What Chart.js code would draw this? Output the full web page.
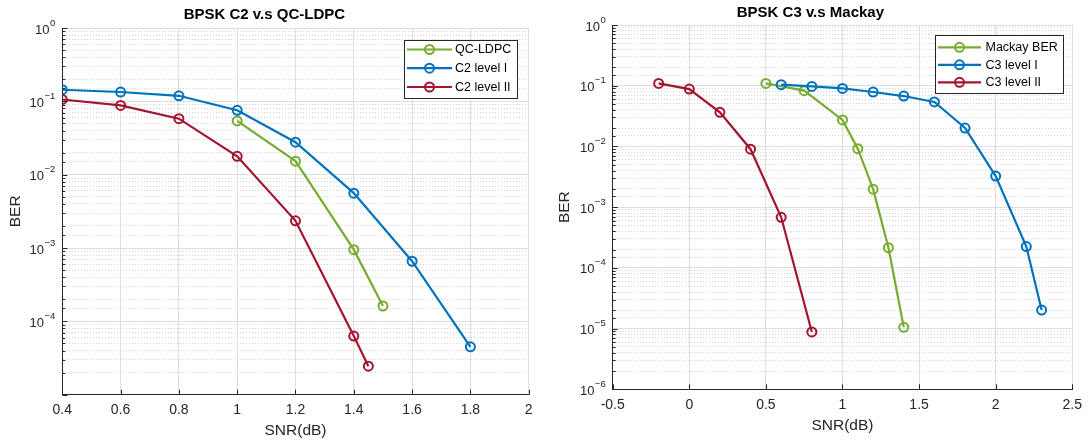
<!DOCTYPE html>
<html><head><meta charset="utf-8">
<script src="https://cdn.jsdelivr.net/npm/chart.js@4/dist/chart.umd.min.js"></script>
<style>
html,body{margin:0;padding:0;background:#fff;overflow:hidden}
#wrap{position:relative;width:1089px;height:441px;background:#fff}
.c{position:absolute;top:0}
</style></head><body>
<div id="wrap">
<canvas id="c1" class="c" style="left:0" width="545" height="441"></canvas>
<canvas id="c2" class="c" style="left:545px" width="544" height="441"></canvas>
</div>
<script>
// ---------- data (left: BPSK C2 v.s QC-LDPC) ----------
const qcSnr   = [1.0, 1.2, 1.4, 1.5];
const qcBer   = [0.054, 0.0153, 9.5e-4, 1.62e-4];
const c2L1Snr = [0.4, 0.6, 0.8, 1.0, 1.2, 1.4, 1.6, 1.8];
const c2L1Ber = [0.144, 0.134, 0.119, 0.0755, 0.0277, 0.0056, 6.6e-4, 4.5e-5];
const c2L2Snr = [0.4, 0.6, 0.8, 1.0, 1.2, 1.4, 1.45];
const c2L2Ber = [0.106, 0.088, 0.058, 0.0178, 0.00235, 6.3e-5, 2.45e-5];
// ---------- data (right: BPSK C3 v.s Mackay) ----------
const mackaySnr = [0.5, 0.75, 1.0, 1.1, 1.2, 1.3, 1.4];
const mackayBer = [0.109, 0.083, 0.0273, 0.0092, 0.00198, 2.15e-4, 1.05e-5];
const c3L1Snr = [0.6, 0.8, 1.0, 1.2, 1.4, 1.6, 1.8, 2.0, 2.2, 2.3];
const c3L1Ber = [0.104, 0.0975, 0.0904, 0.0787, 0.0676, 0.054, 0.0201, 0.00325, 2.24e-4, 2.02e-5];
const c3L2Snr = [-0.2, 0, 0.2, 0.4, 0.6, 0.8];
const c3L2Ber = [0.109, 0.088, 0.0365, 0.009, 6.8e-4, 8.8e-6];
// ---------- labels ----------
const leftTitle = 'BPSK C2 v.s QC-LDPC';
const rightTitle = 'BPSK C3 v.s Mackay';
const leftLabels = ['QC-LDPC', 'C2 level I', 'C2 level II'];
const rightLabels = ['Mackay BER', 'C3 level I', 'C3 level II'];
const leftYTickExps = [0, -1, -2, -3, -4];
const rightYTickExps = [0, -1, -2, -3, -4, -5, -6];
const xTitle = 'SNR(dB)';
const yTitle = 'BER';

const GREEN = '#77AC30', BLUE = '#0072BD', RED = '#A2142F';
const AX = '#262626';
const FAM = '"Liberation Sans", Arial, Helvetica, sans-serif';
Chart.defaults.font.family = FAM;
Chart.defaults.color = AX;

function isMajor(v){ const l = Math.log10(v); return Math.abs(l - Math.round(l)) < 1e-9; }
function pts(xs, ys){ return xs.map((x, i) => ({x: x, y: ys[i]})); }
function ds(label, xs, ys, color, order){
  return { label, data: pts(xs, ys), borderColor: color, backgroundColor: color,
    borderWidth: 2.2, pointRadius: 4.5, pointHoverRadius: 4.5, pointBorderWidth: 2,
    pointBackgroundColor: 'rgba(255,255,255,0)', pointBorderColor: color,
    showLine: true, tension: 0, fill: false, order };
}

const matLegend = {
  id: 'matLegend',
  afterDraw(chart, args, o){
    const ctx = chart.ctx;
    ctx.save();
    ctx.fillStyle = '#fff';
    ctx.fillRect(o.x, o.y, o.w, o.h);
    ctx.strokeStyle = AX; ctx.lineWidth = 1;
    ctx.strokeRect(o.x + 0.5, o.y + 0.5, o.w, o.h);
    ctx.font = '12.5px ' + FAM;
    ctx.textBaseline = 'middle'; ctx.textAlign = 'left';
    chart.data.datasets.forEach((d, i) => {
      const yy = o.rows[i];
      ctx.strokeStyle = d.borderColor; ctx.lineWidth = 2.2;
      ctx.beginPath(); ctx.moveTo(o.l0, yy); ctx.lineTo(o.l1, yy); ctx.stroke();
      ctx.lineWidth = 2;
      ctx.beginPath(); ctx.arc((o.l0 + o.l1) / 2, yy, 4.5, 0, Math.PI * 2); ctx.stroke();
      ctx.fillStyle = '#000';
      ctx.fillText(d.label, o.tx, yy + 0.5);
    });
    ctx.restore();
  }
};

// inward MATLAB-style ticks and power-of-ten labels with raised exponents
const matAxes = {
  id: 'matAxes',
  afterDraw(chart, args, o){
    const ctx = chart.ctx, a = chart.chartArea;
    const xs = chart.scales.x, ys = chart.scales.y;
    ctx.save(); ctx.strokeStyle = AX; ctx.lineWidth = 1;
    ys.ticks.forEach(t => {
      const y = Math.round(ys.getPixelForValue(t.value)) + 0.5;
      const len = isMajor(t.value) ? 5 : 3;
      ctx.beginPath(); ctx.moveTo(a.left, y); ctx.lineTo(a.left + len, y); ctx.stroke();
    });
    xs.ticks.forEach(t => {
      const x = Math.round(xs.getPixelForValue(t.value)) + 0.5;
      ctx.beginPath(); ctx.moveTo(x, a.bottom); ctx.lineTo(x, a.bottom - 5); ctx.stroke();
    });
    ctx.fillStyle = AX; ctx.textAlign = 'right'; ctx.textBaseline = 'middle';
    (o.exps || []).forEach(e => {
      const y = ys.getPixelForValue(Math.pow(10, e));
      const ex = String(e).replace('-', '\u2212');
      const xEnd = a.left - o.gap;
      ctx.font = '9.5px ' + FAM;
      const w = ctx.measureText(ex).width;
      ctx.fillText(ex, xEnd, y - 5);
      ctx.font = '13px ' + FAM;
      ctx.fillText('10', xEnd - w - 0.5, y + 2);
    });
    ctx.restore();
  }
};

function fmtX(v){ return String(Number(v.toFixed(2))); }

function makeChart(id, cfg){
  return new Chart(document.getElementById(id), {
    type: 'scatter',
    data: { datasets: cfg.datasets },
    options: {
      responsive: false, animation: false, devicePixelRatio: 1,
      layout: { padding: { left: 0, right: cfg.padRight, top: 0, bottom: 0 } },
      plugins: {
        legend: { display: false }, tooltip: { enabled: false },
        title: { display: true, text: cfg.title, color: '#000',
          font: { size: 15, weight: 'bold' }, padding: cfg.titlePad },
        matLegend: cfg.legend,
        matAxes: { exps: cfg.yExps, gap: cfg.yGap }
      },
      scales: {
        x: { type: 'linear', min: cfg.xMin, max: cfg.xMax,
          afterFit(s){ s.height = cfg.xH; },
          ticks: { stepSize: cfg.xStep, callback: fmtX, font: { size: 14 }, color: AX,
            padding: cfg.xTickPad, maxRotation: 0, autoSkip: false },
          grid: { color: '#dedede', lineWidth: 1, drawTicks: false },
          border: { color: AX, width: 1 },
          title: { display: true, text: xTitle, font: { size: 15.5 }, color: AX,
            padding: { top: 0, bottom: cfg.xTitleBottom } }
        },
        y: { type: 'logarithmic', min: cfg.yMin, max: 1,
          afterFit(s){ s.width = cfg.yW; },
          ticks: { autoSkip: false, font: { size: 13 }, color: AX, padding: 6,
            callback: () => '' },
          grid: { drawTicks: false, lineWidth: 1,
            color: c => (c.tick && !isMajor(c.tick.value)) ? '#d6d6d6' : '#dedede' },
          border: { color: AX, width: 1,
            dash: c => (c.type === 'tick' && c.tick && !isMajor(c.tick.value)) ? [1, 2] : [] },
          title: { display: true, text: yTitle, font: { size: 15.5 }, color: AX,
            padding: { top: cfg.yTitleTop, bottom: 0 } }
        }
      }
    },
    plugins: [matAxes, matLegend]
  });
}

makeChart('c1', {
  title: leftTitle,
  datasets: [ ds(leftLabels[0], qcSnr, qcBer, GREEN, 3),
              ds(leftLabels[1], c2L1Snr, c2L1Ber, BLUE, 2),
              ds(leftLabels[2], c2L2Snr, c2L2Ber, RED, 1) ],
  xMin: 0.4, xMax: 2, xStep: 0.2, yMin: 1e-5, yExps: leftYTickExps, yGap: 7,
  padRight: 16.3, titlePad: { top: 6, bottom: 4 },
  xH: 46.3, xTickPad: 7, xTitleBottom: 1,
  yW: 62.3, yTitleTop: 6,
  legend: { x: 404, y: 40, w: 113, h: 58, rows: [49.5, 68.2, 87], l0: 407, l1: 452, tx: 455 }
});

makeChart('c2', {
  title: rightTitle,
  datasets: [ ds(rightLabels[0], mackaySnr, mackayBer, GREEN, 3),
              ds(rightLabels[1], c3L1Snr, c3L1Ber, BLUE, 2),
              ds(rightLabels[2], c3L2Snr, c3L2Ber, RED, 1) ],
  xMin: -0.5, xMax: 2.5, xStep: 0.5, yMin: 1e-6, yExps: rightYTickExps, yGap: 7,
  padRight: 13.3, titlePad: { top: 4, bottom: 3 },
  xH: 51.7, xTickPad: 7, xTitleBottom: 5.7,
  yW: 67.7, yTitleTop: 10.7,
  legend: { x: 390, y: 35, w: 128, h: 58, rows: [47.3, 64.8, 82.3], l0: 393, l1: 436, tx: 440.5 }
});
</script>
</body></html>
